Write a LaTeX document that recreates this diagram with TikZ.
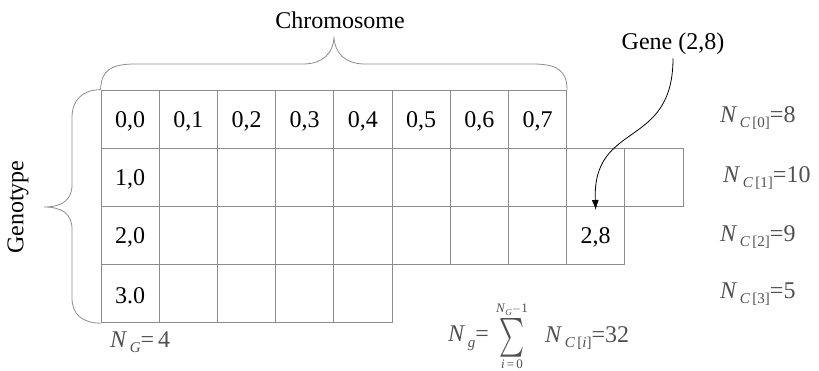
\documentclass[tikz,border=0pt]{standalone}
\usepackage{fontspec}
\setmainfont{Liberation Serif}
\usepackage{graphicx}
\usetikzlibrary{arrows.meta}
\definecolor{gridgray}{RGB}{140,140,140}
\definecolor{labgray}{RGB}{80,80,80}
\newcommand{\subsz}{\fontsize{15}{15}\selectfont}
\newcommand{\NsubC}[1]{\textit{N}\raisebox{-0.5ex}{\subsz\,\textit{C}\,[#1]}}
\begin{document}
\begin{tikzpicture}[x=1pt,y=-1pt,
  cell/.style={draw=gridgray, line width=0.8pt, minimum width=58.2pt, minimum height=58.2pt, inner sep=0pt},
  brace/.style={draw=gridgray, line width=0.8pt},
  title/.style={font=\fontsize{24}{26}\selectfont},
  formula/.style={text=labgray, font=\fontsize{24}{26}\selectfont, inner sep=0pt},
  limit/.style={text=labgray, font=\fontsize{13}{13}\selectfont, inner sep=0pt}]
\useasboundingbox (0,0) rectangle (819,370);
% cells
\foreach \r/\n in {0/8,1/10,2/9,3/5}{
  \pgfmathtruncatemacro\last{\n-1}
  \foreach \c in {0,...,\last}{
    \node[cell] (c-\r-\c) at ({130.1+58.2*\c},{119.1+58.2*\r}) {};
  }
}
\foreach \c in {0,...,7}{ \node[title] at ([yshift=-2pt]c-0-\c) {0,\c}; }
\node[title] at ([yshift=-2pt]c-1-0) {1,0};
\node[title] at ([yshift=-2pt]c-2-0) {2,0};
\node[title] at ([yshift=-2pt]c-3-0) {3.0};
\node[title] at ([yshift=-2pt]c-2-8) {2,8};
% braces
\draw[brace] (c-0-0.north west) .. controls (101,70) and (112,64) .. (135,64) -- (303,64)
  .. controls (324,64) and (333,52) .. (334,38)
  .. controls (335,52) and (344,64) .. (365,64) -- (533,64)
  .. controls (556,64) and (567,70) .. (c-0-7.north east);
\draw[brace] (c-0-0.north west) .. controls (82,90) and (72,100) .. (72,118) -- (72,185)
  .. controls (72,200) and (62,207) .. (44,207)
  .. controls (62,207) and (72,214) .. (72,229) -- (72,298)
  .. controls (72,314) and (82,323) .. (c-3-0.south west);
\node[title] (chrom) at (340,20) {Chromosome};
\node[title, rotate=90] (geno) at (18,207) {Genotype};
\node[title] (gene) at (673,44) {Gene (2,8)};
\draw[line width=0.8pt, -{Latex[length=10pt,width=7pt]}] (gene.south) .. controls (673,150) and (592,120) .. ([yshift=-4pt]c-2-8.north);
% formulas
\node[formula, anchor=west] (n0) at (720,118) {\NsubC{0}=8};
\node[formula, anchor=west] (n1) at (723,178) {\NsubC{1}=10};
\node[formula, anchor=west] (n2) at (720,237) {\NsubC{2}=9};
\node[formula, anchor=west] (n3) at (720,294) {\NsubC{3}=5};
\node[formula, anchor=west] (ng) at (110,342) {\textit{N}\raisebox{-0.5ex}{\subsz\,\textit{G}}=\,4};
\node[formula, anchor=west] (sumlhs) at (448,338) {\textit{N}\raisebox{-0.5ex}{\subsz\,\textit{g}}=};
\node[text=labgray, inner sep=0pt] (sigma) at (512,338) {\resizebox{25pt}{29pt}{$\sum$}};
\node[limit] (up) at (512,310) {\textit{N}\raisebox{-0.5ex}{\fontsize{9}{9}\selectfont\textit{G}}$-$1};
\node[limit] (lo) at (512,364) {\textit{i}\,=\,0};
\node[formula, anchor=west] (sumrhs) at (545,338) {\NsubC{\textit{i}}=32};
\end{tikzpicture}
\end{document}
